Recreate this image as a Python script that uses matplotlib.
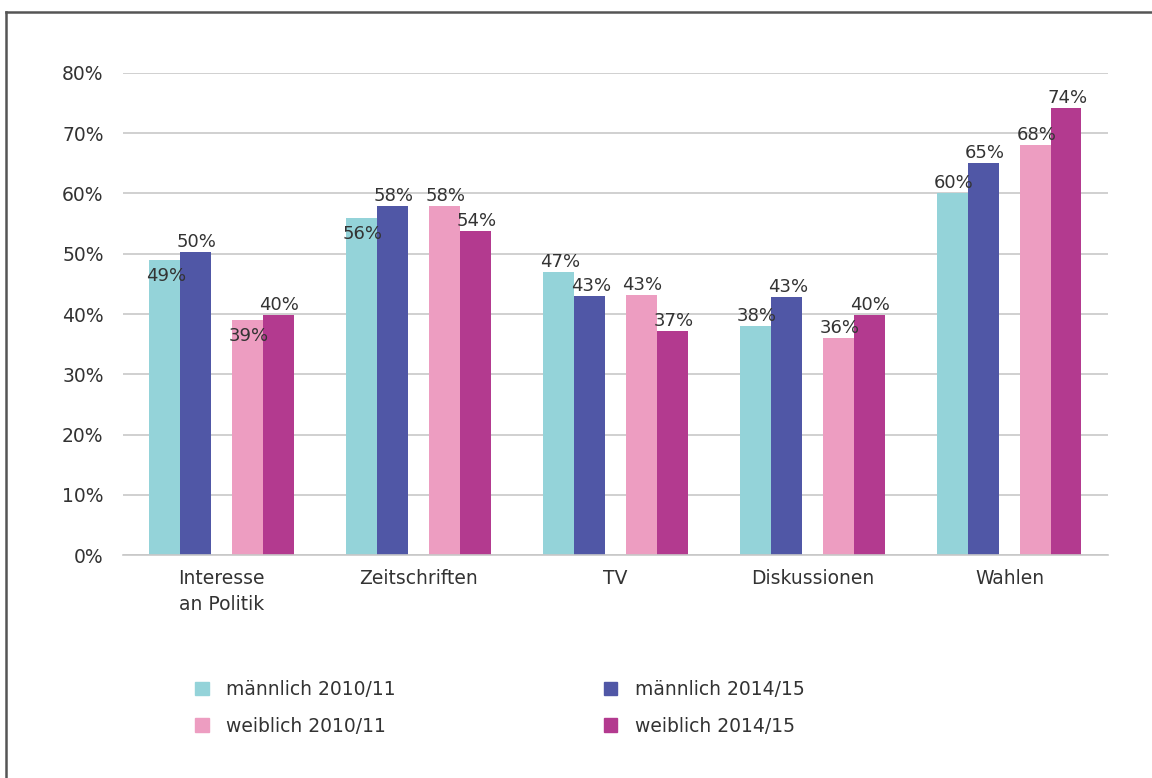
import matplotlib.pyplot as plt
import numpy as np
from matplotlib.patches import Patch
from matplotlib.lines import Line2D

categories = ["Interesse\nan Politik", "Zeitschriften", "TV", "Diskussionen", "Wahlen"]
series_names = ["männlich 2010/11", "männlich 2014/15", "weiblich 2010/11", "weiblich 2014/15"]
m_2010 = [49.0, 56.0, 47.0, 38.0, 60.0]
m_2014 = [50.3, 58.0, 43.0, 42.8, 65.0]
w_2010 = [39.0, 58.0, 43.2, 36.0, 68.0]
w_2014 = [39.8, 53.7, 37.2, 39.8, 74.2]
labels_m_2010 = ["49%", "56%", "47%", "38%", "60%"]
labels_m_2014 = ["50%", "58%", "43%", "43%", "65%"]
labels_w_2010 = ["39%", "58%", "43%", "36%", "68%"]
labels_w_2014 = ["40%", "54%", "37%", "40%", "74%"]
# labels that Excel pushed below the bar top
below = {(0, 0), (0, 1), (2, 0)}

colors = ["#94D3D9", "#5057A6", "#ED9DC1", "#B33A8F"]
offsets = [-0.29, -0.133, 0.13, 0.287]
width = 0.157

plt.rcParams['font.family'] = 'DejaVu Sans'
fig = plt.figure(figsize=(11.52, 7.78), dpi=100)
ax = fig.add_axes([0.1068, 0.2866, 0.855, 0.6196])

x = np.arange(len(categories))
values = [m_2010, m_2014, w_2010, w_2014]
texts = [labels_m_2010, labels_m_2014, labels_w_2010, labels_w_2014]
for s in range(4):
    ax.bar(x + offsets[s], values[s], width, color=colors[s], zorder=2)
    for i in range(len(categories)):
        if (s, i) in below:
            dy = -21
        else:
            dy = 5
        ax.annotate(texts[s][i], (x[i] + offsets[s], values[s][i]),
                    xytext=(1, dy * 0.72), textcoords='offset points',
                    ha='center', va='baseline', fontsize=13, color='#333333', zorder=3)

ax.set_xlim(-0.5, 4.5)
ax.set_ylim(0, 80)
ax.set_yticks(range(0, 81, 10))
ax.set_yticklabels([f"{v}%" for v in range(0, 81, 10)], fontsize=13.5, color='#333333')
ax.set_xticks(x)
ax.set_xticklabels(categories, fontsize=13.5, color='#333333', linespacing=1.45)
for t in ax.get_xticklabels():
    t.set_multialignment('center')
ax.tick_params(axis='both', length=0)
ax.tick_params(axis='y', pad=14)
ax.tick_params(axis='x', pad=10)
ax.grid(axis='y', color='#c8c8c8', linewidth=1.2, zorder=0)
for sp in ['top', 'right', 'left']:
    ax.spines[sp].set_visible(False)
ax.spines['bottom'].set_color('#c8c8c8')
ax.spines['bottom'].set_linewidth(1.2)

handles = [Patch(color=c) for c in [colors[0], colors[2], colors[1], colors[3]]]
names = [series_names[0], series_names[2], series_names[1], series_names[3]]
fig.legend(handles, names, ncol=2, loc='upper left', bbox_to_anchor=(0.155, 0.148),
           frameon=False, fontsize=13.5, handlelength=0.7, handleheight=0.7,
           handletextpad=0.95, columnspacing=11.1, labelspacing=0.95, labelcolor='#333333')

# frame lines at left and top
fig.add_artist(Line2D([6 / 1152, 6 / 1152], [0, 1 - 12 / 778], color='#555555', linewidth=1.8))
fig.add_artist(Line2D([6 / 1152, 1], [1 - 12 / 778, 1 - 12 / 778], color='#555555', linewidth=1.8))

fig.savefig("out.png", dpi=100)
